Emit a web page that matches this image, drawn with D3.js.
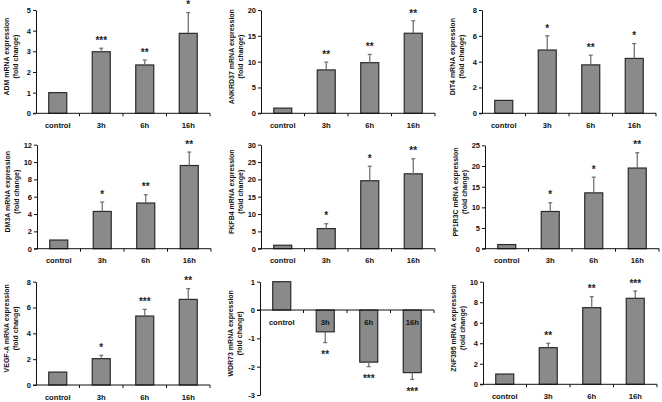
<!DOCTYPE html>
<html><head><meta charset="utf-8">
<script src="https://cdn.jsdelivr.net/npm/d3@7"></script>
<style>
html,body{margin:0;padding:0;background:#fff;}
svg{display:block;font-family:"Liberation Sans",Arial,sans-serif;}
</style></head>
<body>
<svg id="chart" width="662" height="402"></svg>
<script>
// ---------- data ----------
const categories = ["control", "3h", "6h", "16h"];
const genes = ["ADM", "ANKRD37", "DIT4", "DM3A", "FKFB4", "PP1R3C", "VEGF-A", "WDR73", "ZNF395"];
const yLabels = genes.map(g => g + " mRNA expression");
const yLabel2 = "(fold change)";
const meanADM     = [1, 2.98, 2.34, 3.87];
const meanANKRD37 = [1, 8.4, 9.8, 15.5];
const meanDIT4    = [1, 4.9, 3.75, 4.25];
const meanDM3A    = [1, 4.3, 5.27, 9.6];
const meanFKFB4   = [1, 5.8, 19.6, 21.6];
const meanPP1R3C  = [1, 9.0, 13.5, 19.5];
const meanVEGFA   = [1, 2.04, 5.34, 6.63];
const meanWDR73   = [1, -0.77, -1.84, -2.21];
const meanZNF395  = [1, 3.57, 7.47, 8.38];
const errADM      = [0, 0.17, 0.24, 1.0];
const errANKRD37  = [0, 1.5, 1.6, 2.4];
const errDIT4     = [0, 1.1, 0.75, 1.15];
const errDM3A     = [0, 1.08, 0.96, 1.55];
const errFKFB4    = [0, 1.4, 4.2, 4.35];
const errPP1R3C   = [0, 2.1, 3.8, 3.7];
const errVEGFA    = [0, 0.26, 0.52, 0.83];
const errWDR73    = [0, 0.38, 0.16, 0.24];
const errZNF395   = [0, 0.43, 1.07, 0.71];
const starsADM     = ["", "***", "**", "*"];
const starsANKRD37 = ["", "**", "**", "**"];
const starsDIT4    = ["", "*", "**", "*"];
const starsDM3A    = ["", "*", "**", "**"];
const starsFKFB4   = ["", "*", "*", "**"];
const starsPP1R3C  = ["", "*", "*", "**"];
const starsVEGFA   = ["", "*", "***", "**"];
const starsWDR73   = ["", "**", "***", "***"];
const starsZNF395  = ["", "**", "**", "***"];
const yMin  = [0, 0, 0, 0, 0, 0, 0, -3, 0];
const yMax  = [5, 20, 8, 12, 30, 25, 8, 1, 10];
const yStep = [1, 5, 2, 2, 5, 5, 2, 1, 2];

const means = [meanADM, meanANKRD37, meanDIT4, meanDM3A, meanFKFB4, meanPP1R3C, meanVEGFA, meanWDR73, meanZNF395];
const errs  = [errADM, errANKRD37, errDIT4, errDM3A, errFKFB4, errPP1R3C, errVEGFA, errWDR73, errZNF395];
const stars = [starsADM, starsANKRD37, starsDIT4, starsDM3A, starsFKFB4, starsPP1R3C, starsVEGFA, starsWDR73, starsZNF395];

// ---------- layout ----------
const plotLeft = [36, 261, 482, 37, 261, 485, 36, 260, 483];
const plotTop  = [10, 10, 10, 144.7, 144.7, 145.3, 281.7, 281.7, 281.7];
const plotBot  = [113.3, 113.3, 113.3, 248.7, 248.7, 248.7, 385, 395, 384.3];
const plotW = 174;
const barW = 18;

const svg = d3.select("#chart");

genes.forEach((g, i) => {
  const x = d3.scaleBand().domain(categories).range([plotLeft[i], plotLeft[i] + plotW]).paddingInner(0).paddingOuter(0);
  const y = d3.scaleLinear().domain([yMin[i], yMax[i]]).range([plotBot[i], plotTop[i]]);
  const panel = svg.append("g");
  const y0 = y(0);
  const data = categories.map((c, k) => ({c, v: means[i][k], e: errs[i][k], s: stars[i][k]}));

  // bars
  panel.selectAll("rect.bar").data(data).join("rect")
    .attr("x", d => x(d.c) + x.bandwidth()/2 - barW/2)
    .attr("width", barW)
    .attr("y", d => Math.min(y(d.v), y0))
    .attr("height", d => Math.abs(y(d.v) - y0))
    .attr("fill", "#8a8a8a")
    .attr("stroke", "#2a2a2a")
    .attr("stroke-width", 1.2);

  // error bars (one-sided, away from zero)
  const eb = data.filter(d => d.e > 0);
  panel.selectAll("line.err").data(eb).join("line")
    .attr("x1", d => x(d.c) + x.bandwidth()/2)
    .attr("x2", d => x(d.c) + x.bandwidth()/2)
    .attr("y1", d => y(d.v))
    .attr("y2", d => y(d.v + Math.sign(d.v) * d.e))
    .attr("stroke", "#6a6a6a").attr("stroke-width", 1.2);
  panel.selectAll("line.cap").data(eb).join("line")
    .attr("x1", d => x(d.c) + x.bandwidth()/2 - 2)
    .attr("x2", d => x(d.c) + x.bandwidth()/2 + 2)
    .attr("y1", d => y(d.v + Math.sign(d.v) * d.e))
    .attr("y2", d => y(d.v + Math.sign(d.v) * d.e))
    .attr("stroke", "#6a6a6a").attr("stroke-width", 1.2);

  // stars
  panel.selectAll("text.star").data(data.filter(d => d.s)).join("text")
    .attr("x", d => x(d.c) + x.bandwidth()/2)
    .attr("y", d => d.v >= 0 ? y(d.v + d.e) - 4.3 : y(d.v - d.e) + 15.5)
    .attr("text-anchor", "middle")
    .attr("font-size", 10).attr("font-weight", "bold").attr("fill", "#222")
    .text(d => d.s);

  // y axis
  const yAxis = d3.axisLeft(y)
    .tickValues(d3.range(yMin[i], yMax[i] + yStep[i] / 2, yStep[i]))
    .tickFormat(d => String(d))
    .tickSize(3).tickSizeOuter(0).tickPadding(2);
  const ya = panel.append("g").attr("transform", `translate(${plotLeft[i]},0)`).call(yAxis);
  ya.selectAll("path,line").attr("stroke", "#111").attr("stroke-width", 1);
  ya.selectAll("text").attr("font-size", 7.5).attr("font-weight", "bold").attr("fill", "#111")
    .attr("font-family", "\"Liberation Sans\",Arial,sans-serif");

  // x axis line at zero
  panel.append("line")
    .attr("x1", plotLeft[i] - 3).attr("x2", plotLeft[i] + plotW)
    .attr("y1", y0).attr("y2", y0)
    .attr("stroke", "#111").attr("stroke-width", 1);
  panel.selectAll("line.xt").data(categories).join("line")
    .attr("x1", d => x(d) + x.bandwidth()).attr("x2", d => x(d) + x.bandwidth())
    .attr("y1", y0).attr("y2", y0 + 3)
    .attr("stroke", "#111").attr("stroke-width", 1);
  panel.selectAll("text.xl").data(categories).join("text")
    .attr("x", d => x(d) + x.bandwidth()/2)
    .attr("y", y0 + 14.5)
    .attr("text-anchor", "middle")
    .attr("font-size", 7.6).attr("font-weight", "bold").attr("fill", "#111")
    .text(d => d);

  // y label (two lines)
  const cy = (plotTop[i] + plotBot[i]) / 2 - 5;
  const lab = panel.append("g").attr("transform", `translate(${plotLeft[i] - 27},${cy}) rotate(-90)`);
  lab.append("text").attr("x", 0).attr("y", 0).attr("text-anchor", "middle")
    .attr("font-size", 7).attr("font-weight", "bold").attr("fill", "#111").text(yLabels[i]);
  lab.append("text").attr("x", 0).attr("y", 9).attr("text-anchor", "middle")
    .attr("font-size", 7).attr("font-weight", "bold").attr("fill", "#111").text(yLabel2);
});
</script>
</body></html>
